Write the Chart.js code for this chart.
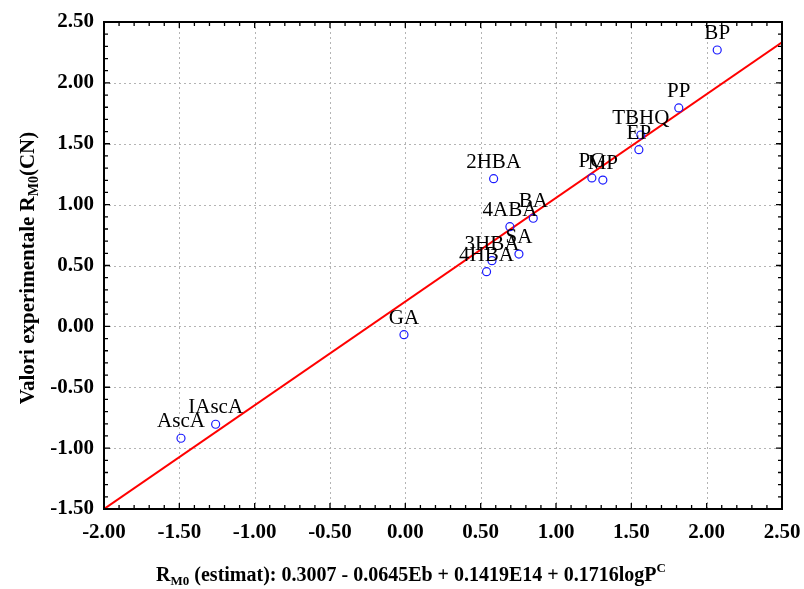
<!DOCTYPE html>
<html>
<head>
<meta charset="utf-8">
<script src="https://cdn.jsdelivr.net/npm/chart.js@4.4.1/dist/chart.umd.min.js"></script>
<style>
  html, body { margin: 0; padding: 0; background: #fff; }
  #wrap { width: 804px; height: 589px; }
</style>
</head>
<body>
<div id="wrap"><canvas id="rmChart" width="804" height="589"></canvas></div>
<script>
// compusi si valorile lor
var compounds = ['BP', 'PP', 'TBHQ', 'EP', 'PG', 'MP', '2HBA', 'BA', '4ABA', 'SA', '3HBA', '4HBA', 'GA', 'IAscA', 'AscA'];
var estimated = [2.07, 1.815, 1.563, 1.55, 1.238, 1.311, 0.586, 0.849, 0.694, 0.754, 0.575, 0.539, -0.009, -1.259, -1.489];
var experimental = [2.27, 1.794, 1.572, 1.451, 1.219, 1.202, 1.213, 0.888, 0.819, 0.594, 0.540, 0.449, -0.068, -0.804, -0.919];

// dreapta de regresie (capete)
var fitX = [-2.0, 2.5];
var fitY = [-1.5, 2.333];

var serif = '"Liberation Serif", "Times New Roman", serif';
var tickFont = { family: serif, size: 21, weight: 'bold' };

var points = [];
for (var i = 0; i < compounds.length; i++) {
    points.push({ x: estimated[i], y: experimental[i] });
}
var fitLine = [];
for (var j = 0; j < fitX.length; j++) {
    fitLine.push({ x: fitX[j], y: fitY[j] });
}

function isMajor(v) {
    return Math.abs(v * 2 - Math.round(v * 2)) < 1e-6;
}

// titlu cu indici / exponenti
function drawParts(ctx, parts, cx, by) {
    var total = 0;
    parts.forEach(function (p) { ctx.font = p.f; total += ctx.measureText(p.t).width; });
    var x0 = cx - total / 2;
    parts.forEach(function (p) {
        ctx.font = p.f;
        ctx.fillText(p.t, x0, by + p.dy);
        x0 += ctx.measureText(p.t).width;
    });
}

// grila punctata
var gridPlugin = {
    id: 'gridPlugin',
    beforeDatasetsDraw: function (chart) {
        var ctx = chart.ctx;
        var a = chart.chartArea;
        var xs = chart.scales.x, ys = chart.scales.y;
        ctx.save();
        ctx.strokeStyle = '#b4b4b4';
        ctx.lineWidth = 1;
        ctx.setLineDash([2, 3]);
        ctx.beginPath();
        xs.ticks.forEach(function (t) {
            if (t.value <= xs.min || t.value >= xs.max) return;
            var px = Math.round(xs.getPixelForValue(t.value)) + 0.5;
            ctx.moveTo(px, a.top); ctx.lineTo(px, a.bottom);
        });
        ys.ticks.forEach(function (t) {
            if (t.value <= ys.min || t.value >= ys.max) return;
            var py = Math.round(ys.getPixelForValue(t.value)) + 0.5;
            ctx.moveTo(a.left, py); ctx.lineTo(a.right, py);
        });
        ctx.stroke();
        ctx.restore();
    }
};

// rama, ticuri minore si etichete
var framePlugin = {
    id: 'framePlugin',
    afterDatasetsDraw: function (chart) {
        var ctx = chart.ctx;
        var a = chart.chartArea;
        var xs = chart.scales.x, ys = chart.scales.y;
        ctx.save();

        // etichete puncte
        var meta = chart.getDatasetMeta(0);
        ctx.font = '21px ' + serif;
        ctx.fillStyle = '#000';
        ctx.textAlign = 'center';
        ctx.textBaseline = 'alphabetic';
        meta.data.forEach(function (el, k) {
            ctx.fillText(compounds[k], el.x, el.y - 11);
        });

        ctx.strokeStyle = '#000';
        ctx.lineWidth = 1.3;
        ctx.beginPath();
        for (var v = -2.0; v <= 2.5001; v += 0.1) {
            var px = xs.getPixelForValue(v);
            var len = isMajor(v) ? 6 : 4;
            ctx.moveTo(px, a.bottom); ctx.lineTo(px, a.bottom - len);
            ctx.moveTo(px, a.top); ctx.lineTo(px, a.top + len);
        }
        for (var w = -1.5; w <= 2.5001; w += 0.1) {
            var py = ys.getPixelForValue(w);
            var l2 = isMajor(w) ? 6 : 4;
            ctx.moveTo(a.left, py); ctx.lineTo(a.left + l2, py);
            ctx.moveTo(a.right, py); ctx.lineTo(a.right - l2, py);
        }
        ctx.stroke();

        ctx.lineWidth = 2;
        ctx.strokeRect(a.left, a.top, a.right - a.left, a.bottom - a.top);

        ctx.textAlign = 'left';
        var bold = 'bold 20px ' + serif;
        var small = 'bold 13px ' + serif;
        drawParts(ctx, [
            { t: 'R', f: bold, dy: 0 },
            { t: 'M0', f: small, dy: 4 },
            { t: ' (estimat): 0.3007 - 0.0645Eb + 0.1419E14 + 0.1716logP', f: bold, dy: 0 },
            { t: 'C', f: small, dy: -9 }
        ], 411, 581);

        ctx.translate(34, 268);
        ctx.rotate(-Math.PI / 2);
        var boldY = 'bold 21px ' + serif;
        var smallY = 'bold 14px ' + serif;
        drawParts(ctx, [
            { t: 'Valori experimentale R', f: boldY, dy: 0 },
            { t: 'M0', f: smallY, dy: 4 },
            { t: '(CN)', f: boldY, dy: 0 }
        ], 0, 0);
        ctx.restore();
    }
};

var chart = new Chart(document.getElementById('rmChart').getContext('2d'), {
    type: 'scatter',
    data: {
        datasets: [
            {
                label: 'compusi',
                data: points,
                pointStyle: 'circle',
                pointRadius: 4,
                pointBorderWidth: 1.2,
                borderColor: '#1a1aff',
                backgroundColor: 'rgba(0,0,0,0)',
                pointBackgroundColor: 'rgba(0,0,0,0)',
                order: 0
            },
            {
                label: 'regresie',
                type: 'line',
                data: fitLine,
                borderColor: '#ff0000',
                borderWidth: 2,
                pointRadius: 0,
                fill: false,
                order: 1
            }
        ]
    },
    options: {
        responsive: false,
        animation: false,
        layout: { padding: { left: 0, top: 22, right: 22, bottom: 0 } },
        plugins: {
            legend: { display: false },
            tooltip: { enabled: false }
        },
        scales: {
            x: {
                type: 'linear',
                min: -2.0,
                max: 2.5,
                afterFit: function (s) {
                    s.height = 80;
                    s.paddingLeft = 0;
                    s.paddingRight = 0;
                },
                ticks: {
                    stepSize: 0.5,
                    padding: 3,
                    color: '#000',
                    font: tickFont,
                    maxRotation: 0,
                    callback: function (v) { return Number(v).toFixed(2); }
                },
                grid: { display: false },
                border: { display: false }
            },
            y: {
                type: 'linear',
                min: -1.5,
                max: 2.5,
                afterFit: function (s) {
                    s.width = 104;
                    s.paddingTop = 0;
                    s.paddingBottom = 0;
                },
                ticks: {
                    stepSize: 0.5,
                    padding: 2,
                    color: '#000',
                    font: tickFont,
                    callback: function (v) { return Number(v).toFixed(2); }
                },
                grid: { display: false },
                border: { display: false }
            }
        }
    },
    plugins: [gridPlugin, framePlugin]
});
</script>
</body>
</html>
